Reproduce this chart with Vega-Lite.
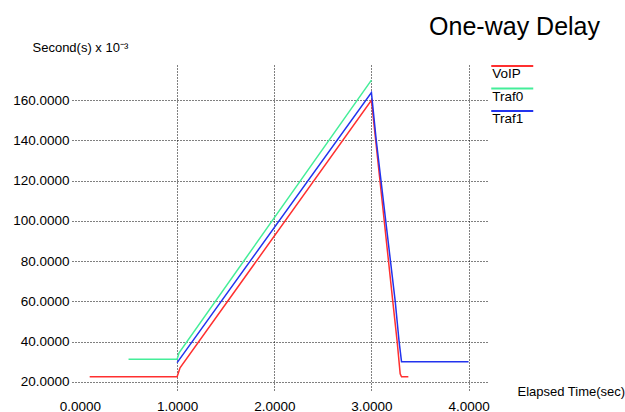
{
  "$schema": "https://vega.github.io/schema/vega-lite/v6.json",
  "width": 416,
  "height": 326,
  "autosize": {"type": "none"},
  "padding": {"left": 72, "top": 65, "right": 137, "bottom": 21},
  "background": "white",
  "title": {
    "text": "One-way Delay",
    "anchor": "end",
    "frame": "group",
    "dx": 112,
    "dy": 13,
    "offset": 14,
    "font": "Liberation Sans",
    "fontSize": 25,
    "fontWeight": "normal",
    "color": "black"
  },
  "config": {
    "view": {"stroke": null},
    "axis": {
      "labelFont": "Liberation Sans",
      "labelFontSize": 13.5,
      "labelColor": "black",
      "titleFont": "Liberation Sans",
      "titleFontWeight": "normal",
      "titleColor": "black",
      "domain": false,
      "ticks": false,
      "gridColor": "black",
      "gridDash": [1, 2],
      "gridWidth": 1,
      "gridOpacity": 1
    }
  },
  "data": {
    "values": [
      {"series": "VoIP", "t": 0.1, "v": 22.6},
      {"series": "VoIP", "t": 1.0, "v": 22.6},
      {"series": "VoIP", "t": 1.03, "v": 27.0},
      {"series": "VoIP", "t": 3.0, "v": 160.0},
      {"series": "VoIP", "t": 3.22, "v": 60.0},
      {"series": "VoIP", "t": 3.265, "v": 40.0},
      {"series": "VoIP", "t": 3.296, "v": 24.0},
      {"series": "VoIP", "t": 3.31, "v": 22.6},
      {"series": "VoIP", "t": 3.38, "v": 22.6},
      {"series": "Traf0", "t": 0.5, "v": 31.3},
      {"series": "Traf0", "t": 1.0, "v": 31.3},
      {"series": "Traf0", "t": 1.02, "v": 34.5},
      {"series": "Traf0", "t": 3.0, "v": 170.0},
      {"series": "Traf1", "t": 1.0, "v": 29.6},
      {"series": "Traf1", "t": 3.0, "v": 163.8},
      {"series": "Traf1", "t": 3.05, "v": 140.0},
      {"series": "Traf1", "t": 3.245, "v": 60.0},
      {"series": "Traf1", "t": 3.285, "v": 40.0},
      {"series": "Traf1", "t": 3.31, "v": 30.0},
      {"series": "Traf1", "t": 4.0, "v": 30.0}
    ]
  },
  "mark": {"type": "line", "strokeWidth": 1.5, "clip": true},
  "encoding": {
    "x": {
      "field": "t",
      "type": "quantitative",
      "scale": {"domain": [-0.082, 4.2], "nice": false, "zero": false},
      "axis": {
        "values": [0, 1, 2, 3, 4],
        "format": ".4f",
        "labelPadding": 8,
        "gridOpacity": {"condition": {"test": "datum.value === 0", "value": 0}, "value": 1},
        "title": "Elapsed Time(sec)",
        "titleFontSize": 13,
        "titleAlign": "left",
        "titleBaseline": "middle",
        "titleAngle": 0,
        "titleX": 445,
        "titleY": 0
      }
    },
    "y": {
      "field": "v",
      "type": "quantitative",
      "scale": {"domain": [15.5, 177.5], "nice": false, "zero": false},
      "axis": {
        "values": [20, 40, 60, 80, 100, 120, 140, 160],
        "format": ".4f",
        "labelPadding": 3,
        "title": "Second(s) x 10⁻³",
        "titleFontSize": 13,
        "titleAlign": "left",
        "titleBaseline": "middle",
        "titleAngle": 0,
        "titleX": -40,
        "titleY": -18
      }
    },
    "color": {
      "field": "series",
      "type": "nominal",
      "scale": {"domain": ["VoIP", "Traf0", "Traf1"], "range": ["#ff3030", "#44ee99", "#2233ee"]},
      "legend": {
        "orient": "none",
        "legendX": 414.5,
        "legendY": 2.25,
        "title": null,
        "padding": 0,
        "symbolType": "M -2 -8 H 40",
        "symbolSize": 4,
        "symbolStrokeWidth": 2,
        "symbolFillColor": "transparent",
        "labelOffset": -7.8,
        "labelFont": "Liberation Sans",
        "labelFontSize": 13.5,
        "labelColor": "black",
        "rowPadding": 2.5
      }
    },
    "order": {"field": "series"}
  }
}
